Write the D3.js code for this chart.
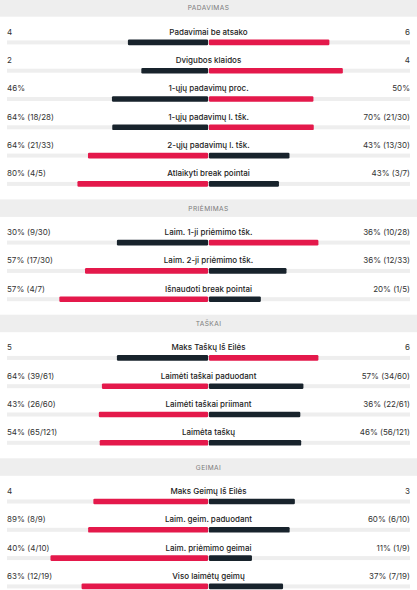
<!DOCTYPE html>
<html>
<head>
<meta charset="utf-8">
<script src="https://cdn.jsdelivr.net/npm/d3@7"></script>
<style>
  html, body { margin: 0; padding: 0; background: #fff; }
  svg { display: block; font-family: Inter, "Noto Sans", sans-serif; }
</style>
</head>
<body>
<div id="stats"></div>
<script>
var sections = ["PADAVIMAS", "PRIĖMIMAS", "TAŠKAI", "GEIMAI"];
var rowSection = [0, 0, 0, 0, 0, 0, 1, 1, 1, 2, 2, 2, 2, 3, 3, 3, 3];
var labels = [
    "Padavimai be atsako", "Dvigubos klaidos", "1-ųjų padavimų proc.",
    "1-ųjų padavimų l. tšk.", "2-ųjų padavimų l. tšk.", "Atlaikyti break pointai",
    "Laim. 1-ji priėmimo tšk.", "Laim. 2-ji priėmimo tšk.", "Išnaudoti break pointai",
    "Maks Taškų Iš Eilės", "Laimėti taškai paduodant", "Laimėti taškai priimant", "Laimėta taškų",
    "Maks Geimų Iš Eilės", "Laim. geim. paduodant", "Laim. priėmimo geimai", "Viso laimėtų geimų"
];
var leftText = ["4", "2", "46%", "64% (18/28)", "64% (21/33)", "80% (4/5)",
    "30% (9/30)", "57% (17/30)", "57% (4/7)",
    "5", "64% (39/61)", "43% (26/60)", "54% (65/121)",
    "4", "89% (8/9)", "40% (4/10)", "63% (12/19)"];
var rightText = ["6", "4", "50%", "70% (21/30)", "43% (13/30)", "43% (3/7)",
    "36% (10/28)", "36% (12/33)", "20% (1/5)",
    "6", "57% (34/60)", "36% (22/61)", "46% (56/121)",
    "3", "60% (6/10)", "11% (1/9)", "37% (7/19)"];
var leftVal = [4, 2, 46, 64, 64, 80, 30, 57, 57, 5, 64, 43, 54, 4, 89, 40, 63];
var rightVal = [6, 4, 50, 70, 43, 43, 36, 36, 20, 6, 57, 36, 46, 3, 60, 11, 37];

var RED = "#e4194b", DARK = "#18232c";

function init() {
    var w = 417, h = 590;
    var x0 = 7, x1 = 410, cx = 208.5;
    var step = 28.3, sectionGap = 30.4;

    var svg = d3.select("#stats").append("svg")
        .attr("width", w)
        .attr("height", h);

    // bar y positions, sections add extra space for their header
    var barY = [];
    var y = 42.4;
    rowSection.forEach(function(s, i) {
        if (i > 0) {
            y += step;
            if (s !== rowSection[i - 1]) y += sectionGap;
        }
        barY.push(y);
    });

    // section headers
    sections.forEach(function(name, s) {
        var first = rowSection.indexOf(s);
        var top = barY[first] - 43.2;
        svg.append("rect")
            .attr("x", 0).attr("y", top)
            .attr("width", w).attr("height", 17.5)
            .attr("fill", "#eeeeee");
        svg.append("text")
            .attr("x", w / 2).attr("y", top + 11.2)
            .attr("text-anchor", "middle")
            .attr("font-size", 6.6)
            .attr("letter-spacing", 0.4)
            .attr("fill", "#7a7a7a")
            .text(name);
    });

    var rows = svg.selectAll("g.row")
        .data(labels)
        .enter()
        .append("g")
        .attr("class", "row")
        .attr("transform", function(d, i) { return "translate(0," + barY[i] + ")"; });

    // grey track
    rows.append("rect")
        .attr("x", x0).attr("y", -2)
        .attr("width", x1 - x0).attr("height", 4)
        .attr("fill", "#eeeeee");

    rows.each(function(d, i) {
        var g = d3.select(this);
        var scale = d3.scaleLinear()
            .domain([0, leftVal[i] + rightVal[i]])
            .range([0, cx - x0]);
        var leftWins = leftVal[i] > rightVal[i];
        var lw = scale(leftVal[i]), rw = scale(rightVal[i]);
        g.append("rect")
            .attr("x", cx - lw).attr("y", -2.8)
            .attr("width", lw - 0.4).attr("height", 5.6)
            .attr("rx", 1.2)
            .attr("fill", leftWins ? RED : DARK);
        g.append("rect")
            .attr("x", cx + 0.4).attr("y", -2.8)
            .attr("width", rw - 0.4).attr("height", 5.6)
            .attr("rx", 1.2)
            .attr("fill", leftWins ? DARK : RED);
    });

    rows.append("text")
        .attr("x", x0).attr("y", -7.6)
        .attr("font-size", 8)
        .attr("fill", "#333")
        .text(function(d, i) { return leftText[i]; });

    rows.append("text")
        .attr("x", x1).attr("y", -7.6)
        .attr("text-anchor", "end")
        .attr("font-size", 8)
        .attr("fill", "#333")
        .text(function(d, i) { return rightText[i]; });

    rows.append("text")
        .attr("x", cx).attr("y", -7.6)
        .attr("text-anchor", "middle")
        .attr("font-size", 8)
        .attr("font-weight", 500)
        .attr("fill", "#222")
        .text(function(d) { return d; });
}
window.onload = init;
</script>
</body>
</html>
